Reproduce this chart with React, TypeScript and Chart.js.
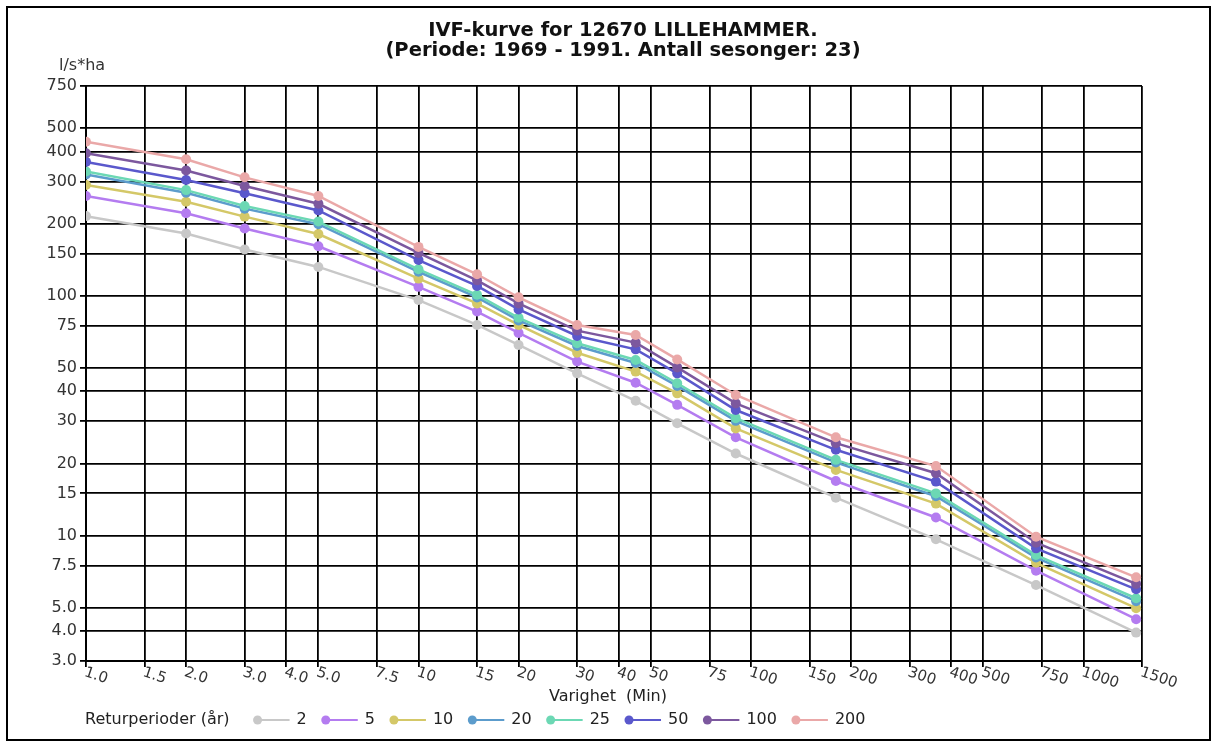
import React, { useEffect, useRef } from "react";
import { Chart, registerables } from "chart.js";

Chart.register(...registerables);

const durations = [1, 2, 3, 5, 10, 15, 20, 30, 45, 60, 90, 180, 360, 720, 1440];

const returnPeriods = ["2", "5", "10", "20", "25", "50", "100", "200"];

const r2 = [215, 182, 156, 132, 96, 75.6, 62.4, 47.5, 36.5, 29.4, 22.0, 14.4, 9.65, 6.22, 3.94];
const r5 = [261, 221, 191, 161, 109, 86, 70, 53.2, 43.4, 35.1, 25.7, 16.9, 11.9, 7.14, 4.48];
const r10 = [290, 247, 214, 181, 118, 93, 75.6, 57.9, 48.3, 39.2, 28.0, 18.8, 13.6, 7.7, 4.98];
const r20 = [321, 269, 231, 199, 126, 98.5, 79, 61.8, 52.5, 42.1, 30.1, 20.2, 14.6, 8.1, 5.33];
const r25 = [330, 276, 237, 204, 129, 101, 81, 63.4, 54, 43.2, 30.9, 20.7, 15.0, 8.3, 5.48];
const r50 = [362, 304, 268, 227, 141, 110, 87.8, 68, 59.8, 47.5, 33.4, 22.8, 16.8, 8.85, 5.97];
const r100 = [393, 333, 287, 242, 151, 116, 93, 71.6, 63.8, 50.3, 35.6, 24.3, 18.2, 9.34, 6.29];
const r200 = [439, 371, 312, 261, 160, 123, 98.6, 75.6, 68.7, 54.3, 38.6, 25.7, 19.5, 9.9, 6.7];

const seriesValues = [r2, r5, r10, r20, r25, r50, r100, r200];
const seriesColors = ["#c8c8c8", "#b47cf0", "#d4c868", "#5c9ccc", "#6cd8b4", "#5a58cc", "#7c589e", "#eaa8a8"];

const xTickValues = [1, 1.5, 2, 3, 4, 5, 7.5, 10, 15, 20, 30, 40, 50, 75, 100, 150, 200, 300, 400, 500, 750, 1000, 1500];
const xTickLabels = ["1.0", "1.5", "2.0", "3.0", "4.0", "5.0", "7.5", "10", "15", "20", "30", "40", "50", "75", "100", "150", "200", "300", "400", "500", "750", "1000", "1500"];
const yTickValues = [3, 4, 5, 7.5, 10, 15, 20, 30, 40, 50, 75, 100, 150, 200, 300, 400, 500, 750];
const yTickLabels = ["3.0", "4.0", "5.0", "7.5", "10", "15", "20", "30", "40", "50", "75", "100", "150", "200", "300", "400", "500", "750"];

const titleLines = ["IVF-kurve for 12670 LILLEHAMMER.", "(Periode: 1969 - 1991. Antall sesonger: 23)"];
const yUnit = "l/s*ha";
const xTitle = "Varighet  (Min)";
const legendTitle = "Returperioder (år)";

const W = 1217;
const H = 747;
const FONT = "'DejaVu Sans', sans-serif";

const framePlugin = {
  id: "frame",
  beforeDraw(chart: any) {
    const ctx = chart.ctx;
    ctx.save();
    ctx.fillStyle = "#fff";
    ctx.fillRect(0, 0, W, H);
    ctx.strokeStyle = "#000";
    ctx.lineWidth = 2;
    ctx.strokeRect(7, 7, 1203, 733);
    ctx.restore();
  },
};

const decorPlugin = {
  id: "decor",
  afterDraw(chart: any) {
    const ctx = chart.ctx;
    const area = chart.chartArea;
    const xs = chart.scales.x;
    ctx.save();
    // title
    ctx.fillStyle = "#111";
    ctx.font = `bold 19.5px ${FONT}`;
    ctx.textAlign = "center";
    ctx.textBaseline = "middle";
    ctx.fillText(titleLines[0], 623, 31);
    ctx.fillText(titleLines[1], 623, 51);
    // y unit
    ctx.font = `16px ${FONT}`;
    ctx.fillStyle = "#333";
    ctx.textAlign = "left";
    ctx.fillText(yUnit, 59, 66);
    // x tick labels rotated
    ctx.font = `15px ${FONT}`;
    ctx.fillStyle = "#333";
    xTickValues.forEach((v, i) => {
      const px = xs.getPixelForValue(v);
      ctx.save();
      ctx.translate(px + 1, area.bottom + 4);
      ctx.rotate(0.32);
      ctx.textAlign = "left";
      ctx.textBaseline = "top";
      ctx.fillText(xTickLabels[i], 0, 0);
      ctx.restore();
    });
    // x title
    ctx.font = `16px ${FONT}`;
    ctx.fillStyle = "#222";
    ctx.textAlign = "center";
    ctx.textBaseline = "middle";
    ctx.fillText(xTitle, 608, 697);
    // legend
    const ly = 720;
    let lx = 85;
    ctx.textAlign = "left";
    ctx.font = `16px ${FONT}`;
    ctx.fillStyle = "#222";
    ctx.fillText(legendTitle, lx, ly);
    lx += ctx.measureText(legendTitle).width + 26;
    chart.data.datasets.forEach((ds: any) => {
      ctx.strokeStyle = ds.borderColor;
      ctx.lineWidth = 2;
      ctx.beginPath();
      ctx.moveTo(lx, ly);
      ctx.lineTo(lx + 34, ly);
      ctx.stroke();
      ctx.fillStyle = ds.borderColor;
      ctx.beginPath();
      ctx.arc(lx + 2, ly, 4.5, 0, Math.PI * 2);
      ctx.fill();
      ctx.fillStyle = "#222";
      ctx.fillText(ds.label, lx + 41, ly);
      lx += 41 + ctx.measureText(ds.label).width + 17;
    });
    ctx.restore();
  },
};

export default function App() {
  const ref = useRef<HTMLCanvasElement | null>(null);
  useEffect(() => {
    if (!ref.current) return;
    const datasets = seriesValues.map((vals, i) => ({
      label: returnPeriods[i],
      data: durations.map((d, j) => ({ x: d, y: vals[j] })),
      borderColor: seriesColors[i],
      backgroundColor: seriesColors[i],
      pointBackgroundColor: seriesColors[i],
      pointBorderWidth: 0,
      pointRadius: 5,
      borderWidth: 2.5,
      fill: false,
      tension: 0,
      order: -i,
    }));
    const chart = new Chart(ref.current, {
      type: "line",
      data: { datasets },
      plugins: [framePlugin, decorPlugin],
      options: {
        animation: false,
        responsive: false,
        devicePixelRatio: 1,
        layout: { padding: { top: 86, right: 75, bottom: 0, left: 0 } },
        plugins: { legend: { display: false }, title: { display: false }, tooltip: { enabled: false } },
        scales: {
          x: {
            type: "logarithmic",
            min: 1,
            max: 1500,
            afterBuildTicks: (s: any) => {
              s.ticks = xTickValues.map((v) => ({ value: v }));
            },
            afterFit: (s: any) => {
              s.height = 86;
            },
            ticks: { display: false, autoSkip: false },
            grid: { color: "#000", lineWidth: 1.8, tickLength: 6, tickColor: "#000" },
            border: { color: "#000", width: 2 },
          },
          y: {
            type: "logarithmic",
            min: 3,
            max: 750,
            afterBuildTicks: (s: any) => {
              s.ticks = yTickValues.map((v) => ({ value: v }));
            },
            afterFit: (s: any) => {
              s.width = 86;
            },
            ticks: {
              autoSkip: false,
              padding: 3,
              color: "#333",
              font: { family: "DejaVu Sans", size: 16 },
              callback: (v: any) => {
                const k = yTickValues.indexOf(Number(v));
                return k >= 0 ? yTickLabels[k] : "";
              },
            },
            grid: { color: "#000", lineWidth: 1.8, tickLength: 6, tickColor: "#000" },
            border: { color: "#000", width: 2 },
          },
        },
      },
    });
    return () => chart.destroy();
  }, []);
  return (
    <div style={{ position: "absolute", left: 0, top: 0, width: W, height: H }}>
      <canvas ref={ref} width={W} height={H} style={{ display: "block" }} />
    </div>
  );
}
